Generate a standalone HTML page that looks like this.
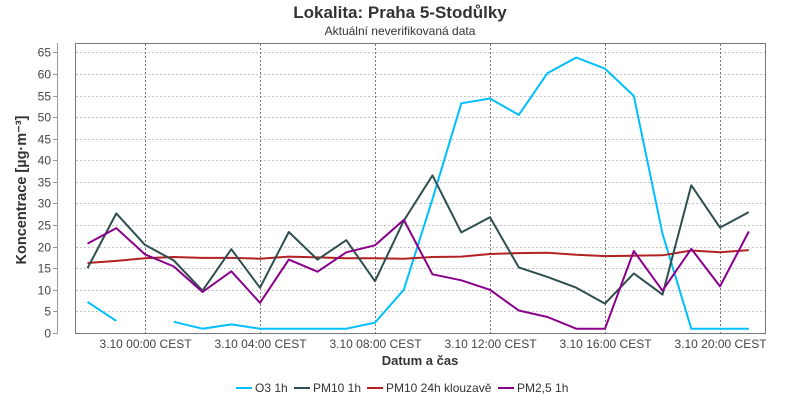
<!DOCTYPE html><html><head><meta charset="utf-8"><style>body{margin:0;background:#fff}svg{display:block;font-family:"Liberation Sans",sans-serif}</style></head><body>
<svg width="800" height="400" xmlns="http://www.w3.org/2000/svg">
<text x="400" y="18" text-anchor="middle" font-size="17" font-weight="bold" fill="#333">Lokalita: Praha 5-Stodůlky</text>
<text x="400" y="35" text-anchor="middle" font-size="12" fill="#333">Aktuální neverifikovaná data</text>
<g id="grid" stroke="#c4c4c4" stroke-dasharray="2,2" stroke-width="1"></g>
<g id="vgrid" stroke="#777" stroke-dasharray="2,2" stroke-width="1"></g>
<rect x="75.5" y="43.5" width="690" height="290" fill="none" stroke="#777"/>
<line x1="57.5" y1="43" x2="57.5" y2="334" stroke="#999"/>
<g id="ylab" font-size="12" fill="#444" text-anchor="end"></g>
<g id="xlab" font-size="12" fill="#444" text-anchor="middle"></g>
<text transform="translate(26,190) rotate(-90)" text-anchor="middle" font-size="14.5" font-weight="bold" fill="#333">Koncentrace [µg·m⁻³]</text>
<text x="420" y="365" text-anchor="middle" font-size="13" font-weight="bold" fill="#333">Datum a čas</text>
<g id="series" fill="none" stroke-width="2" stroke-linejoin="round"></g>
<g font-size="12" fill="#333">
<line x1="236" y1="388" x2="252" y2="388" stroke="#00bfff" stroke-width="2"/><text x="255" y="392">O3 1h</text>
<line x1="294" y1="388" x2="310" y2="388" stroke="#2f4f4f" stroke-width="2"/><text x="313" y="392">PM10 1h</text>
<line x1="367" y1="388" x2="383" y2="388" stroke="#b22222" stroke-width="2"/><text x="386" y="392">PM10 24h klouzavě</text>
<line x1="498" y1="388" x2="514" y2="388" stroke="#8b008b" stroke-width="2"/><text x="517" y="392">PM2,5 1h</text>
</g>
</svg>
<script>
const NS="http://www.w3.org/2000/svg";
const Y=v=>333-v*4.318, X=i=>87.5+i*28.75;
function el(p,t,a,txt){const e=document.createElementNS(NS,t);for(const k in a)e.setAttribute(k,a[k]);if(txt!=null)e.textContent=txt;document.getElementById(p).appendChild(e);}
for(let v=0;v<=65;v+=5){const y=Math.round(Y(v))+.5;if(v>0)el("grid","line",{x1:76,x2:765,y1:y,y2:y});el("ylab","text",{x:51,y:y+4},v);el("ylab","line",{x1:53,x2:57,y1:y,y2:y,stroke:"#999"});}
["00","04","08","12","16","20"].forEach((h,k)=>{const x=Math.round(145+k*115)+.5;el("vgrid","line",{x1:x,x2:x,y1:44,y2:333});el("xlab","text",{x:x,y:348},"3.10 "+h+":00 CEST");});
const S={"#00bfff":[7.2,2.8,null,2.6,1,2,1,1,1,1,2.4,10,31,53.2,54.3,50.5,60.2,63.8,61.2,54.9,23,1,1,1],
"#b22222":[16.2,16.7,17.3,17.6,17.4,17.4,17.2,17.7,17.5,17.3,17.3,17.2,17.6,17.7,18.3,18.5,18.6,18.1,17.8,17.9,18,19.1,18.7,19.2],
"#2f4f4f":[15,27.7,20.4,16.8,9.8,19.4,10.5,23.4,17,21.5,12,26,36.5,23.3,26.8,15.2,13,10.5,6.8,13.8,8.9,34.2,24.4,28],
"#8b008b":[20.7,24.3,18.2,15.4,9.5,14.3,7,17,14.2,18.7,20.3,26.2,13.6,12.2,10,5.2,3.7,1,1,19,9.8,19.5,10.8,23.5]};
for(const c in S){let d="",pen=false;S[c].forEach((v,i)=>{if(v==null){pen=false;return;}d+=(pen?"L":"M")+X(i).toFixed(1)+" "+Y(v).toFixed(1);pen=true;});el("series","path",{d:d,stroke:c});}
</script>
</body></html>
